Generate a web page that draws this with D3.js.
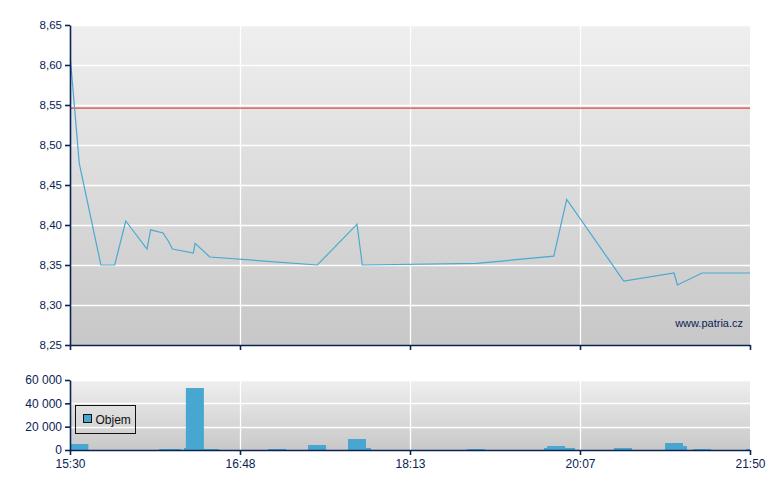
<!DOCTYPE html>
<html><head><meta charset="utf-8">
<script src="https://cdn.jsdelivr.net/npm/d3@7"></script>
<style>
html,body{margin:0;padding:0;background:#fff;}
svg{display:block;font-family:"Liberation Sans",Arial,sans-serif;}
</style></head>
<body>
<svg id="c" width="780" height="490"></svg>
<script>
// ---- data ----
const timeTicks = ["15:30","16:48","18:13","20:07","21:50"];
const priceTicks = [8.25,8.30,8.35,8.40,8.45,8.50,8.55,8.60,8.65];
const volTicks = [0,20000,40000,60000];
const refPrice = 8.546;
const priceTimes = ["15:30:10","15:34:15","15:44:10","15:50:30","15:55:35","16:05:20","16:07:00","16:12:40","16:15:05","16:17:00","16:26:35","16:27:25","16:34:10","17:26:40","17:46:30","17:49:10","18:57:40","19:49:25","19:58:05","20:33:30","21:04:00","21:06:00","21:21:00","21:50:00"];
const priceValues = [8.608,8.477,8.35,8.35,8.405,8.37,8.394,8.39,8.38,8.37,8.365,8.377,8.36,8.35,8.401,8.35,8.352,8.361,8.432,8.33,8.34,8.325,8.34,8.34];
const volTimes = ["15:30:10","16:10:50","16:12:40","16:22:20","16:23:10","16:30:05","17:02:00","17:22:00","17:42:00","17:44:30","18:51:10","19:42:55","19:44:55","19:51:35","20:27:35","20:58:30","21:00:55","21:15:30","21:47:35"];
const volValues = [5100,860,860,1700,53100,860,860,4300,9400,1700,860,1700,3400,1700,1700,6000,3400,860,860];
const legendLabel = "Objem";
const watermark = "www.patria.cz";

// ---- helpers ----
const toMin = s => { const p = s.split(":").map(Number); return p[0]*60 + p[1] + (p[2]||0)/60; };

const svg = d3.select("#c");
const L = 70, R = 750;
const top1 = 25, bot1 = 345, top2 = 380, bot2 = 450;
const navy = "#0b2354";

const tickMins = timeTicks.map(toMin);
const x = d3.scaleLinear()
  .domain(tickMins)
  .range(tickMins.map((d,i) => L + i*(R-L)/(tickMins.length-1)));
const y1 = d3.scaleLinear().domain([8.25,8.65]).range([bot1, top1]);
const y2 = d3.scaleLinear().domain([0,60000]).range([bot2, top2]);

const defs = svg.append("defs");
function grad(id, c1, c2){
  const g = defs.append("linearGradient").attr("id", id).attr("x1",0).attr("y1",0).attr("x2",0).attr("y2",1);
  g.append("stop").attr("offset","0%").attr("stop-color",c1);
  g.append("stop").attr("offset","100%").attr("stop-color",c2);
}
grad("g1","#efefef","#c7c7c7");
grad("g2","#efefef","#c8c8c8");
defs.append("clipPath").attr("id","clip2").append("rect").attr("x",L).attr("y",top2-5).attr("width",R-L).attr("height",bot2-top2+5);

// ---- backgrounds ----
svg.append("rect").attr("x",L).attr("y",top1).attr("width",R-L).attr("height",bot1-top1).attr("fill","url(#g1)");
svg.append("rect").attr("x",L).attr("y",top2).attr("width",R-L).attr("height",bot2-top2).attr("fill","url(#g2)");

// ---- grid ----
function grid(yScale, ticks, yTop, yBot){
  const g = svg.append("g").attr("stroke","#fff").attr("stroke-width",1.3);
  g.selectAll("line.h").data(ticks.slice(1)).join("line")
    .attr("x1",L).attr("x2",R).attr("y1",d=>Math.round(yScale(d))+0.5).attr("y2",d=>Math.round(yScale(d))+0.5);
  g.selectAll("line.v").data(tickMins.slice(1,-1)).join("line")
    .attr("x1",d=>x(d)+0.5).attr("x2",d=>x(d)+0.5).attr("y1",yTop).attr("y2",yBot);
}
grid(y1, priceTicks, top1, bot1);
grid(y2, volTicks, top2, bot2);

// ---- reference line ----
svg.append("line").attr("x1",L).attr("x2",R).attr("y1",y1(refPrice)).attr("y2",y1(refPrice))
  .attr("stroke","#e04444").attr("stroke-width",1.2);

// ---- price line ----
const pts = priceTimes.map((t,i) => [toMin(t), priceValues[i]]);
svg.append("path").datum(pts)
  .attr("d", d3.line().x(d=>x(d[0])).y(d=>y1(d[1])))
  .attr("fill","none").attr("stroke","#4aa9d2").attr("stroke-width",1.2);

// ---- volume bars ----
const bars = volTimes.map((t,i) => ({t: toMin(t), v: volValues[i]})).sort((a,b)=>a.v-b.v);
const barW = 18;
svg.append("g").attr("clip-path","url(#clip2)").selectAll("rect").data(bars).join("rect")
  .attr("x", d=>x(d.t)).attr("width", barW)
  .attr("y", d=>y2(d.v)).attr("height", d=>bot2 - y2(d.v))
  .attr("fill","#47a7d0");

// ---- axes ----
function styleAxis(g, fs){
  g.selectAll("path,line").attr("stroke",navy).attr("stroke-width",1.6);
  g.selectAll("text").attr("fill",navy).attr("font-size",fs).attr("font-family",'"Liberation Sans",Arial,sans-serif');
}
const fmtP = d => d3.format(".2f")(d).replace(".",",");
const ay1 = svg.append("g").attr("transform",`translate(${L},0)`)
  .call(d3.axisLeft(y1).tickValues(priceTicks).tickFormat(fmtP).tickSize(5).tickPadding(3).tickSizeOuter(0));
styleAxis(ay1, 11.5);
const ax1 = svg.append("g").attr("transform",`translate(0,${bot1})`)
  .call(d3.axisBottom(x).tickValues(tickMins).tickFormat("").tickSize(5).tickSizeOuter(0));
styleAxis(ax1, 12);

const fmtV = d => d3.format(",")(d).replace(/,/g," ");
const ay2 = svg.append("g").attr("transform",`translate(${L},0)`)
  .call(d3.axisLeft(y2).tickValues(volTicks).tickFormat(fmtV).tickSize(5).tickPadding(3).tickSizeOuter(0));
styleAxis(ay2, 12);
const ax2 = svg.append("g").attr("transform",`translate(0,${bot2})`)
  .call(d3.axisBottom(x).tickValues(tickMins).tickFormat((d,i)=>timeTicks[i]).tickSize(5).tickPadding(4).tickSizeOuter(0));
styleAxis(ax2, 12);

// ---- legend ----
const lg = svg.append("g").attr("transform","translate(75.5,405.5)");
lg.append("rect").attr("width",60).attr("height",28).attr("fill","none").attr("stroke","#111").attr("stroke-width",1);
lg.append("rect").attr("x",8).attr("y",9).attr("width",8).attr("height",8).attr("fill","#47a7d0").attr("stroke","#111").attr("stroke-width",1);
lg.append("text").attr("x",20).attr("y",18).attr("font-size",12).attr("fill","#111").text(legendLabel);

// ---- watermark ----
svg.append("text").attr("x",743).attr("y",327).attr("text-anchor","end")
  .attr("font-size",11).attr("fill",navy).text(watermark);
</script>
</body></html>
